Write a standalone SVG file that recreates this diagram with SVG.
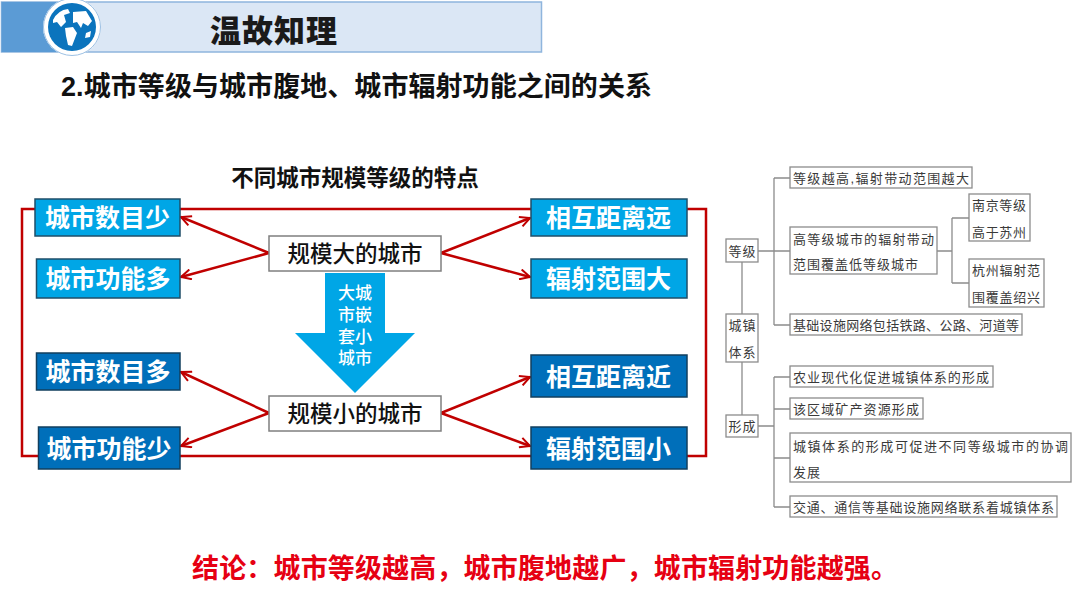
<svg xmlns="http://www.w3.org/2000/svg" width="1080" height="608" viewBox="0 0 1080 608">
<defs>
<marker id="ah" viewBox="0 0 12 12" refX="11" refY="6" markerWidth="12" markerHeight="12" markerUnits="userSpaceOnUse" orient="auto"><path d="M1 1L11 6L1 11" fill="none" stroke="#c00000" stroke-width="2"/></marker>
</defs>
<style>
text{font-family:"Liberation Sans","Noto Sans CJK SC",sans-serif;dominant-baseline:central}
.lb{fill:#00a6e6;stroke:#1f4e68;stroke-width:1.5}
.db{fill:#006fba;stroke:#123f5e;stroke-width:1.5}
.w{fill:#fff;font-size:25px;font-weight:700;text-anchor:middle}
.c rect{fill:#fff;stroke:#7f7f7f;stroke-width:1.5}
.c text{font-size:22.5px;font-weight:500;fill:#111;text-anchor:middle}
.a text{fill:#fff;font-size:17px;font-weight:500;text-anchor:middle}
.red{fill:none;stroke:#c00000;stroke-width:2.5}
.s rect{fill:#fff;stroke:#8c8c8c;stroke-width:1.3}
.s text{font-size:13px;fill:#3a3a3a}
.t{fill:none;stroke:#8c8c8c;stroke-width:1.3}
</style>
<rect width="1080" height="608" fill="#fff"/>
<g id="header">
<rect x="1.500" y="2" width="540" height="50" fill="#dbe7f5" stroke="#8fb5dd" stroke-width="1.500"/>
<rect x="1.500" y="2" width="58" height="50" fill="#5b9bd5"/>
<circle cx="72" cy="27" r="29" fill="#fff"/>
<circle cx="72" cy="27" r="28.500" fill="none" stroke="#9dc1e4" stroke-width="1"/>
<circle cx="72" cy="27" r="24" fill="#0b74bd"/>
<path d="M53 20Q58 10 68 9L70 13L64 15L66 22L61 27L57 22L53 23Z M65 28L73 27L77 33L72 46L68 45L66 36Z M73 12L86 11L92 21L88 26L83 23L81 28L77 22L73 23Z M86 33L91 31L90 37L85 38Z" fill="#fff"/>
<text x="273.500" y="28" font-size="31" font-weight="900" fill="#1a1a1a" text-anchor="middle" textLength="127" style="font-family:'Noto Sans CJK SC',serif">温故知理</text>
</g>
<text id="heading" x="61" y="87" font-size="27" font-weight="700" fill="#111" textLength="591">2.城市等级与城市腹地、城市辐射功能之间的关系</text>
<text id="subtitle" x="355" y="178" font-size="22.500" font-weight="700" fill="#111" text-anchor="middle">不同城市规模等级的特点</text>
<g id="connectors">
<path class="red" d="M35 209H22V456H38M180 209H531M687 209H706V456H687M180 456H531"/>
<g class="red">
<path d="M269 253L181 217" marker-end="url(#ah)"/>
<path d="M269 253L181 277" marker-end="url(#ah)"/>
<path d="M269 413L181 372" marker-end="url(#ah)"/>
<path d="M269 413L181 446" marker-end="url(#ah)"/>
<path d="M441 253L530 218" marker-end="url(#ah)"/>
<path d="M441 253L530 277" marker-end="url(#ah)"/>
<path d="M441 413L530 377" marker-end="url(#ah)"/>
<path d="M441 413L530 446" marker-end="url(#ah)"/>
</g>
<path class="t" d="M758 251H790M774 178V325M774 178H790M774 325H790M937 251H952M952 218V283M952 218H969M952 283H969M742 262V314M742 362V415M758 426H774M774 377V507M774 377H790M774 409H790M774 458H790M774 507H790"/>
</g>
<g id="n1"><rect class="lb" x="35" y="199" width="145" height="37"/><text class="w" x="107.500" y="218">城市数目少</text></g>
<g id="n2"><rect class="lb" x="36.500" y="259" width="143.500" height="39"/><text class="w" x="108" y="279">城市功能多</text></g>
<g id="n3"><rect class="db" x="36.500" y="353" width="143.500" height="37"/><text class="w" x="108" y="372">城市数目多</text></g>
<g id="n4"><rect class="db" x="38.500" y="427" width="141.500" height="42"/><text class="w" x="109" y="449">城市功能少</text></g>
<g id="n5"><rect class="lb" x="531" y="199" width="156" height="37"/><text class="w" x="608.500" y="218">相互距离远</text></g>
<g id="n6"><rect class="lb" x="531" y="259" width="156" height="39"/><text class="w" x="608.500" y="279">辐射范围大</text></g>
<g id="n7"><rect class="db" x="531" y="355" width="156" height="42"/><text class="w" x="608.500" y="377">相互距离近</text></g>
<g id="n8"><rect class="db" x="531" y="427" width="156" height="42"/><text class="w" x="608.500" y="449">辐射范围小</text></g>
<g id="n9" class="c"><rect x="269" y="236" width="172" height="35"/><text x="355" y="254">规模大的城市</text></g>
<g id="n10" class="c"><rect x="269" y="396" width="172" height="35"/><text x="355" y="414">规模小的城市</text></g>
<g id="n11" class="a"><polygon points="325,273 385,273 385,333 415,333 355,393 295,333 325,333" fill="#00a6e6"/><text x="355" y="293">大城</text><text x="355" y="315">市嵌</text><text x="355" y="337">套小</text><text x="355" y="358">城市</text></g>
<g class="s">
<g id="s1"><rect x="790" y="167" width="182" height="21"/><text x="793" y="178" textLength="176">等级越高,辐射带动范围越大</text></g>
<g id="s2"><rect x="790" y="227" width="147" height="47"/><text x="793" y="239" textLength="141">高等级城市的辐射带动</text><text x="793" y="264" textLength="125">范围覆盖低等级城市</text></g>
<g id="s3"><rect x="969" y="194" width="61" height="47"/><text x="972" y="205" textLength="54">南京等级</text><text x="972" y="232" textLength="54">高于苏州</text></g>
<g id="s4"><rect x="969" y="259" width="75" height="48"/><text x="972" y="270" textLength="68">杭州辐射范</text><text x="972" y="297" textLength="68">围覆盖绍兴</text></g>
<g id="s5"><rect x="790" y="314" width="232" height="21"/><text x="793" y="325" textLength="226">基础设施网络包括铁路、公路、河道等</text></g>
<g id="s6"><rect x="726" y="239" width="32" height="23"/><text x="728.500" y="251" textLength="27">等级</text></g>
<g id="s7"><rect x="726" y="314" width="32" height="48"/><text x="728.500" y="325" textLength="27">城镇</text><text x="728.500" y="352" textLength="27">体系</text></g>
<g id="s8"><rect x="726" y="415" width="32" height="22"/><text x="728.500" y="426" textLength="27">形成</text></g>
<g id="s9"><rect x="790" y="366" width="203" height="21"/><text x="793" y="377" textLength="196">农业现代化促进城镇体系的形成</text></g>
<g id="s10"><rect x="790" y="398" width="133" height="21"/><text x="793" y="409" textLength="126">该区域矿产资源形成</text></g>
<g id="s11"><rect x="790" y="433" width="281" height="49"/><text x="793" y="446" textLength="275">城镇体系的形成可促进不同等级城市的协调</text><text x="793" y="472" textLength="27">发展</text></g>
<g id="s12"><rect x="790" y="496" width="267" height="21"/><text x="793" y="507" textLength="261">交通、通信等基础设施网络联系着城镇体系</text></g>
</g>
<text id="conclusion" x="192" y="569" font-size="27" font-weight="700" fill="#e60012" textLength="706">结论：城市等级越高，城市腹地越广，城市辐射功能越强。</text>
</svg>
